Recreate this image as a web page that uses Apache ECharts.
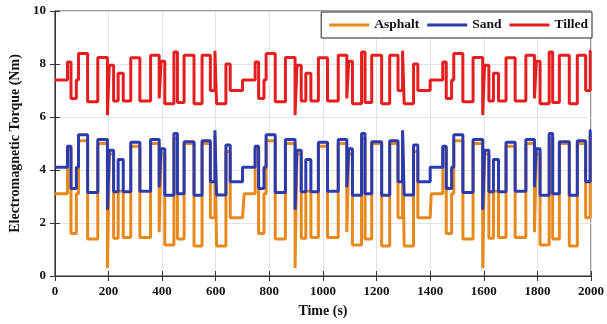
<!DOCTYPE html>
<html>
<head>
<meta charset="utf-8">
<script src="https://cdn.jsdelivr.net/npm/echarts@6/dist/echarts.min.js"></script>
<style>
html,body{margin:0;padding:0;background:#fff;}
#chart{width:607px;height:324px;}
</style>
</head>
<body>
<div id="chart"></div>
<script>
// Time (s) at which each step starts (last entry = end of record)
var times = [
  0, 47, 60, 80, 88, 122, 160, 196, 203, 219, 236, 255, 283, 317, 357, 389, 396, 410, 444, 457, 482, 519, 549, 580, 597, 603, 638, 654,
  700, 706, 747, 760, 780, 788, 822, 860, 896, 903, 919, 936, 955, 983, 1017, 1057, 1089, 1096, 1110, 1144, 1157, 1182, 1219, 1249, 1280, 1297, 1303, 1338, 1354,
  1400, 1404, 1447, 1460, 1480, 1488, 1522, 1560, 1596, 1603, 1619, 1636, 1655, 1683, 1717, 1757, 1789, 1796, 1810, 1844, 1857, 1882, 1919, 1949, 1980, 1997, 2000
];
var asphalt = [
  3.1, 4.8, 1.6, 3.1, 5.1, 1.4, 5.0, 0.3, 4.6, 1.42, 3.2, 1.45, 4.9, 1.45, 5.0, 1.65, 4.6, 1.17, 5.2, 1.4, 5.0, 1.13, 5.0, 2.2, 5.3, 1.13, 4.7, 2.2,
  2.2, 3.1, 4.8, 1.6, 3.1, 5.1, 1.4, 5.0, 0.3, 4.6, 1.42, 3.2, 1.45, 4.9, 1.45, 5.0, 1.65, 4.6, 1.17, 5.2, 1.4, 5.0, 1.13, 5.0, 2.2, 5.3, 1.13, 4.7, 2.2,
  2.2, 3.1, 4.8, 1.6, 3.1, 5.1, 1.4, 5.0, 0.3, 4.6, 1.42, 3.2, 1.45, 4.9, 1.45, 5.0, 1.65, 4.6, 1.17, 5.2, 1.4, 5.0, 1.13, 5.0, 2.2, 5.3, 5.3
];
var sand = [
  4.1, 4.9, 3.3, 4.1, 5.33, 3.15, 5.15, 2.5, 4.75, 3.18, 4.4, 3.18, 5.05, 3.2, 5.15, 3.35, 4.8, 3.05, 5.38, 3.1, 5.07, 3.05, 5.1, 3.56, 5.5, 3.06, 4.94, 3.56,
  4.1, 4.1, 4.9, 3.3, 4.1, 5.33, 3.15, 5.15, 2.5, 4.75, 3.18, 4.4, 3.18, 5.05, 3.2, 5.15, 3.35, 4.8, 3.05, 5.38, 3.1, 5.07, 3.05, 5.1, 3.56, 5.5, 3.06, 4.94, 3.56,
  4.1, 4.1, 4.9, 3.3, 4.1, 5.33, 3.15, 5.15, 2.5, 4.75, 3.18, 4.4, 3.18, 5.05, 3.2, 5.15, 3.35, 4.8, 3.05, 5.38, 3.1, 5.07, 3.05, 5.1, 3.56, 5.5, 5.5
];
var tilled = [
  7.4, 8.08, 6.7, 7.4, 8.4, 6.58, 8.25, 6.07, 7.95, 6.6, 7.65, 6.6, 8.24, 6.6, 8.33, 6.7, 8.1, 6.5, 8.45, 6.55, 8.33, 6.5, 8.33, 7.0, 8.5, 6.5, 8.0, 7.0,
  7.4, 7.4, 8.08, 6.7, 7.4, 8.4, 6.58, 8.25, 6.07, 7.95, 6.6, 7.65, 6.6, 8.24, 6.6, 8.33, 6.7, 8.1, 6.5, 8.45, 6.55, 8.33, 6.5, 8.33, 7.0, 8.5, 6.5, 8.0, 7.0,
  7.4, 7.4, 8.08, 6.7, 7.4, 8.4, 6.58, 8.25, 6.07, 7.95, 6.6, 7.65, 6.6, 8.24, 6.6, 8.33, 6.7, 8.1, 6.5, 8.45, 6.55, 8.33, 6.5, 8.33, 7.0, 8.5, 8.5
];
var seriesNames = ['Asphalt', 'Sand', 'Tilled'];
var seriesColors = ['#E8891C', '#2B3BAE', '#E41E1E'];
var xTicks = {min: 0, max: 2000, interval: 200};
var yTicks = {min: 0, max: 10, interval: 2};

var font = 'Liberation Serif';
function pairs(vals){ return times.map(function(t,i){ return [t, vals[i]]; }); }
var allVals = [asphalt, sand, tilled];

var chart = echarts.init(document.getElementById('chart'), null, {renderer:'canvas'});
var labelStyle = {fontFamily: font, fontWeight: 'bold', fontSize: 13, color: '#111', formatter: function(v){ return String(v); }};
chart.setOption({
  animation: false,
  backgroundColor: '#fff',
  grid: {left: 54, right: 15, top: 11, bottom: 48, show: true, borderColor: '#333', borderWidth: 1},
  legend: {
    right: 15, top: 12,
    data: seriesNames,
    icon: 'rect',
    backgroundColor: '#fff',
    borderColor: '#222', borderWidth: 1,
    padding: [6, 4, 6, 8],
    itemWidth: 40, itemHeight: 3, itemGap: 8,
    textStyle: {fontFamily: font, fontWeight: 'bold', fontSize: 13.5, color: '#111', lineHeight: 14}
  },
  xAxis: [{
    type: 'value', min: xTicks.min, max: xTicks.max, interval: xTicks.interval,
    name: 'Time (s)', nameLocation: 'middle', nameGap: 28,
    nameTextStyle: {fontFamily: font, fontWeight: 'bold', fontSize: 14, color: '#111'},
    axisLine: {show: true, lineStyle: {color: '#333'}},
    axisTick: {show: true, inside: true, length: 5, lineStyle: {color: '#333'}},
    axisLabel: Object.assign({margin: 9}, labelStyle),
    splitLine: {show: true, lineStyle: {color: '#e2e2e2', width: 1}}
  }, {
    type: 'value', position: 'top', min: xTicks.min, max: xTicks.max, interval: xTicks.interval,
    axisLine: {show: true, lineStyle: {color: '#333'}},
    axisTick: {show: true, inside: true, length: 5, lineStyle: {color: '#333'}},
    axisLabel: {show: false}, splitLine: {show: false}
  }],
  yAxis: [{
    type: 'value', min: yTicks.min, max: yTicks.max, interval: yTicks.interval,
    name: 'Electromagnetic Torque (Nm)', nameLocation: 'middle', nameGap: 30,
    nameTextStyle: {fontFamily: font, fontWeight: 'bold', fontSize: 14, color: '#111'},
    axisLine: {show: true, lineStyle: {color: '#333'}},
    axisTick: {show: true, inside: true, length: 5, lineStyle: {color: '#333'}},
    axisLabel: Object.assign({margin: 9}, labelStyle),
    splitLine: {show: true, lineStyle: {color: '#e2e2e2', width: 1}}
  }, {
    type: 'value', position: 'right', min: yTicks.min, max: yTicks.max, interval: yTicks.interval,
    axisLine: {show: true, lineStyle: {color: '#333'}},
    axisTick: {show: true, inside: true, length: 5, lineStyle: {color: '#333'}},
    axisLabel: {show: false}, splitLine: {show: false}
  }],
  series: seriesNames.map(function(n, k){
    return {
      name: n, type: 'line', step: 'end', symbol: 'none', showSymbol: false,
      xAxisIndex: 0, yAxisIndex: 0,
      data: pairs(allVals[k]),
      lineStyle: {color: seriesColors[k], width: 3},
      itemStyle: {color: seriesColors[k]},
      z: 2 + k
    };
  })
});
</script>
</body>
</html>
